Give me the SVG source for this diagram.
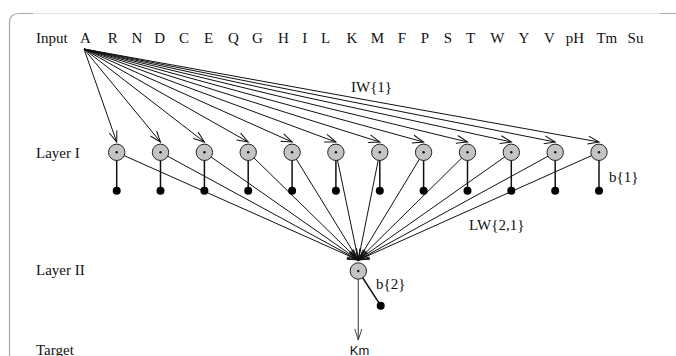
<svg xmlns="http://www.w3.org/2000/svg" width="676" height="356" viewBox="0 0 676 356">
  <style>
    .lbl { font-family: "Liberation Serif", "Times New Roman", serif; font-size: 15px; fill: #111; }
    .in { text-anchor: middle; }
    .sans { font-family: "Liberation Sans", Arial, sans-serif; font-size: 13px; fill: #111; }
    .wire { stroke: #111; stroke-width: 1; fill: none; }
    .bias { stroke: #111; stroke-width: 1.5; }
    .neuron { fill: #c4c4c4; stroke: #222; stroke-width: 1; }
    .core { fill: #111; }
    .dot { fill: #000; }
  </style>
  <defs>
    <marker id="vee" markerUnits="userSpaceOnUse" markerWidth="14" markerHeight="10" refX="12" refY="5" orient="auto" overflow="visible">
      <path d="M1,1 L12,5 L1,9" fill="none" stroke="#111" stroke-width="1"/>
    </marker>
    <marker id="veeGray" markerUnits="userSpaceOnUse" markerWidth="14" markerHeight="10" refX="12" refY="5" orient="auto" overflow="visible">
      <path d="M1,1.5 L12,5 L1,8.5" fill="none" stroke="#444" stroke-width="1"/>
    </marker>
  </defs>

  <rect width="676" height="356" fill="#fff"/>

  <!-- frame -->
  <g id="frame" fill="none">
    <line x1="33" y1="13.5" x2="660" y2="13.5" stroke="#e2e2e2" stroke-width="1"/>
    <line x1="660" y1="13.5" x2="676" y2="13.5" stroke="#a8a8a8" stroke-width="1"/>
    <path d="M9.5,356 L9.5,23 Q9.5,13.5 19,13.5 L33,13.5" stroke="#a8a8a8" stroke-width="1.2"/>
  </g>

  <!-- row labels -->
  <g id="labels">
    <text class="lbl" x="36" y="43.3">Input</text>
    <text class="lbl" x="36" y="157.7">Layer I</text>
    <text class="lbl" x="36" y="275.3">Layer II</text>
    <text class="lbl" x="36" y="354.5">Target</text>
  </g>

  <!-- input features -->
  <g id="inputs" class="lbl in">
    <text x="85.3" y="43.3">A</text>
    <text x="112.8" y="43.3">R</text>
    <text x="137" y="43.3">N</text>
    <text x="159.7" y="43.3">D</text>
    <text x="184" y="43.3">C</text>
    <text x="208.7" y="43.3">E</text>
    <text x="233.5" y="43.3">Q</text>
    <text x="257.5" y="43.3">G</text>
    <text x="283.3" y="43.3">H</text>
    <text x="304.8" y="43.3">I</text>
    <text x="325.7" y="43.3">L</text>
    <text x="352" y="43.3">K</text>
    <text x="377.3" y="43.3">M</text>
    <text x="402" y="43.3">F</text>
    <text x="424.8" y="43.3">P</text>
    <text x="448" y="43.3">S</text>
    <text x="470.7" y="43.3">T</text>
    <text x="497.3" y="43.3">W</text>
    <text x="523.8" y="43.3">Y</text>
    <text x="549.3" y="43.3">V</text>
    <text x="574.8" y="43.3">pH</text>
    <text x="606.8" y="43.3">Tm</text>
    <text x="635.5" y="43.3">Su</text>
  </g>

  <!-- connectors -->
  <g id="connectors">
    <!-- input weights IW{1} -->
    <g class="wire" marker-end="url(#vee)">
      <line x1="84" y1="49" x2="116.7" y2="142"/>
      <line x1="84" y1="49" x2="160.5" y2="142"/>
      <line x1="84" y1="49" x2="204.4" y2="142"/>
      <line x1="84" y1="49" x2="248.2" y2="142"/>
      <line x1="84" y1="49" x2="292.1" y2="142"/>
      <line x1="84" y1="49" x2="335.9" y2="142"/>
      <line x1="84" y1="49" x2="379.8" y2="142"/>
      <line x1="84" y1="49" x2="423.6" y2="142"/>
      <line x1="84" y1="49" x2="467.5" y2="142"/>
      <line x1="84" y1="49" x2="511.3" y2="142"/>
      <line x1="84" y1="49" x2="555.2" y2="142"/>
      <line x1="84" y1="49" x2="599" y2="142"/>
    </g>
    <!-- layer weights LW{2,1} -->
    <g class="wire" marker-end="url(#vee)">
      <line x1="116.7" y1="152.3" x2="358.3" y2="260"/>
      <line x1="160.5" y1="152.3" x2="358.3" y2="260"/>
      <line x1="204.4" y1="152.3" x2="358.3" y2="260"/>
      <line x1="248.2" y1="152.3" x2="358.3" y2="260"/>
      <line x1="292.1" y1="152.3" x2="358.3" y2="260"/>
      <line x1="335.9" y1="152.3" x2="358.3" y2="260"/>
      <line x1="379.8" y1="152.3" x2="358.3" y2="260"/>
      <line x1="423.6" y1="152.3" x2="358.3" y2="260"/>
      <line x1="467.5" y1="152.3" x2="358.3" y2="260"/>
      <line x1="511.3" y1="152.3" x2="358.3" y2="260"/>
      <line x1="555.2" y1="152.3" x2="358.3" y2="260"/>
      <line x1="599" y1="152.3" x2="358.3" y2="260"/>
    </g>
    <!-- biases b{1} -->
    <g class="bias">
      <line x1="116.7" y1="160" x2="116.7" y2="190.7"/>
      <line x1="160.5" y1="160" x2="160.5" y2="190.7"/>
      <line x1="204.4" y1="160" x2="204.4" y2="190.7"/>
      <line x1="248.2" y1="160" x2="248.2" y2="190.7"/>
      <line x1="292.1" y1="160" x2="292.1" y2="190.7"/>
      <line x1="335.9" y1="160" x2="335.9" y2="190.7"/>
      <line x1="379.8" y1="160" x2="379.8" y2="190.7"/>
      <line x1="423.6" y1="160" x2="423.6" y2="190.7"/>
      <line x1="467.5" y1="160" x2="467.5" y2="190.7"/>
      <line x1="511.3" y1="160" x2="511.3" y2="190.7"/>
      <line x1="555.2" y1="160" x2="555.2" y2="190.7"/>
      <line x1="599" y1="160" x2="599" y2="190.7"/>
    </g>
    <!-- bias b{2} -->
    <line class="bias" x1="358.3" y1="271" x2="380.7" y2="305.7"/>
    <!-- output -->
    <line x1="358.3" y1="279" x2="358.3" y2="340" stroke="#555" stroke-width="1.2" marker-end="url(#veeGray)"/>
  </g>

  <!-- bias dots -->
  <g id="bias-dots" class="dot">
    <circle cx="116.7" cy="190.7" r="4"/>
    <circle cx="160.5" cy="190.7" r="4"/>
    <circle cx="204.4" cy="190.7" r="4"/>
    <circle cx="248.2" cy="190.7" r="4"/>
    <circle cx="292.1" cy="190.7" r="4"/>
    <circle cx="335.9" cy="190.7" r="4"/>
    <circle cx="379.8" cy="190.7" r="4"/>
    <circle cx="423.6" cy="190.7" r="4"/>
    <circle cx="467.5" cy="190.7" r="4"/>
    <circle cx="511.3" cy="190.7" r="4"/>
    <circle cx="555.2" cy="190.7" r="4"/>
    <circle cx="599" cy="190.7" r="4"/>
    <circle cx="380.7" cy="305.7" r="4"/>
  </g>

  <!-- layer I neurons -->
  <g id="n1-1"><circle class="neuron" cx="116.7" cy="152.3" r="8.2"/><circle class="core" cx="116.7" cy="152.3" r="1.2"/></g>
  <g id="n1-2"><circle class="neuron" cx="160.5" cy="152.3" r="8.2"/><circle class="core" cx="160.5" cy="152.3" r="1.2"/></g>
  <g id="n1-3"><circle class="neuron" cx="204.4" cy="152.3" r="8.2"/><circle class="core" cx="204.4" cy="152.3" r="1.2"/></g>
  <g id="n1-4"><circle class="neuron" cx="248.2" cy="152.3" r="8.2"/><circle class="core" cx="248.2" cy="152.3" r="1.2"/></g>
  <g id="n1-5"><circle class="neuron" cx="292.1" cy="152.3" r="8.2"/><circle class="core" cx="292.1" cy="152.3" r="1.2"/></g>
  <g id="n1-6"><circle class="neuron" cx="335.9" cy="152.3" r="8.2"/><circle class="core" cx="335.9" cy="152.3" r="1.2"/></g>
  <g id="n1-7"><circle class="neuron" cx="379.8" cy="152.3" r="8.2"/><circle class="core" cx="379.8" cy="152.3" r="1.2"/></g>
  <g id="n1-8"><circle class="neuron" cx="423.6" cy="152.3" r="8.2"/><circle class="core" cx="423.6" cy="152.3" r="1.2"/></g>
  <g id="n1-9"><circle class="neuron" cx="467.5" cy="152.3" r="8.2"/><circle class="core" cx="467.5" cy="152.3" r="1.2"/></g>
  <g id="n1-10"><circle class="neuron" cx="511.3" cy="152.3" r="8.2"/><circle class="core" cx="511.3" cy="152.3" r="1.2"/></g>
  <g id="n1-11"><circle class="neuron" cx="555.2" cy="152.3" r="8.2"/><circle class="core" cx="555.2" cy="152.3" r="1.2"/></g>
  <g id="n1-12"><circle class="neuron" cx="599" cy="152.3" r="8.2"/><circle class="core" cx="599" cy="152.3" r="1.2"/></g>

  <!-- layer II neuron -->
  <g id="n2"><circle class="neuron" cx="358.3" cy="271" r="8.2"/><circle class="core" cx="358.3" cy="271" r="1.2"/></g>

  <!-- weight and bias labels -->
  <g id="weight-labels" class="lbl">
    <text x="351" y="92">IW{1}</text>
    <text x="609" y="181.7">b{1}</text>
    <text x="469" y="230">LW{2,1}</text>
    <text x="376" y="289.3">b{2}</text>
  </g>

  <!-- target -->
  <g id="target"><text class="sans" x="359.6" y="354.5" text-anchor="middle">Km</text></g>
</svg>
